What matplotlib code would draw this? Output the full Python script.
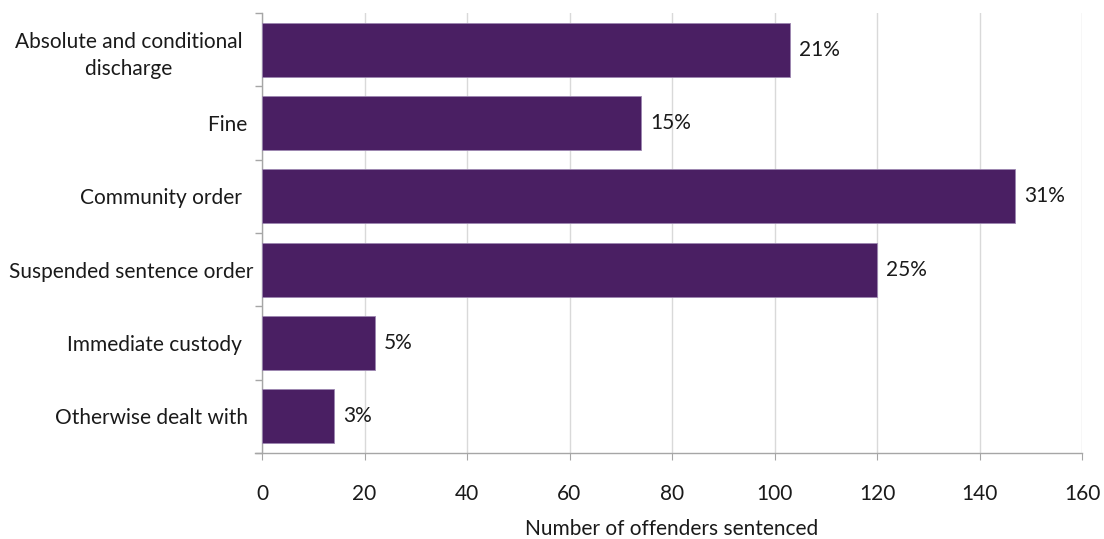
import matplotlib
matplotlib.use("Agg")
import matplotlib.pyplot as plt
from matplotlib.ticker import FixedLocator

categories = [
    "Absolute and conditional  \ndischarge  ",
    "Fine ",
    "Community order  ",
    "Suspended sentence order",
    "Immediate custody  ",
    "Otherwise dealt with ",
]
offenders = [103, 74, 147, 120, 22, 14]
shares = ["21%", "15%", "31%", "25%", "5%", "3%"]
x_ticks = [0, 20, 40, 60, 80, 100, 120, 140, 160]

plt.rcParams["font.family"] = ["Lato", "DejaVu Sans"]

fig = plt.figure(figsize=(11.04, 5.39), dpi=100)
ax = fig.add_axes([262 / 1104, 1 - 453 / 539, 820 / 1104, 440 / 539])

bar_color = "#4A1F63"
grid_color = "#D9D9D9"
axis_color = "#A6A6A6"
text_color = "#1a1a1a"
fs = 15

y = list(range(len(categories)))
ax.barh(y, offenders, height=0.74, color=bar_color, edgecolor="#9C86B0",
        linewidth=0.6, zorder=3)

for yi, v, s in zip(y, offenders, shares):
    ax.text(v + 1.8, yi, s, va="center", ha="left", fontsize=fs, color=text_color,
            zorder=4)

ax.set_xlim(0, 160)
ax.set_ylim(len(categories) - 0.5, -0.5)
ax.set_xticks(x_ticks)
ax.set_xticklabels([str(t) for t in x_ticks], fontsize=fs, color=text_color)
ax.set_yticks(y)
ax.set_yticklabels(categories, fontsize=fs, color=text_color,
                   multialignment="center", linespacing=1.45)
ax.tick_params(axis="y", length=0, pad=6.5)
ax.tick_params(axis="x", length=5, color=axis_color, pad=17, direction="out")

# Category boundary ticks on the left axis
ax.yaxis.set_minor_locator(FixedLocator([i - 0.5 for i in range(len(categories) + 1)]))
ax.tick_params(axis="y", which="minor", length=5, color=axis_color, width=1)

ax.grid(axis="x", color=grid_color, linewidth=1, zorder=0)
for side in ("top", "right"):
    ax.spines[side].set_visible(False)
for side in ("left", "bottom"):
    ax.spines[side].set_color(axis_color)
    ax.spines[side].set_linewidth(1)
ax.spines["bottom"].set_bounds(-1.4, 160)
ax.spines["bottom"].set_clip_on(False)

ax.set_xlabel("Number of offenders sentenced", fontsize=fs, color=text_color,
              labelpad=11)

fig.savefig("out.png", dpi=100)
